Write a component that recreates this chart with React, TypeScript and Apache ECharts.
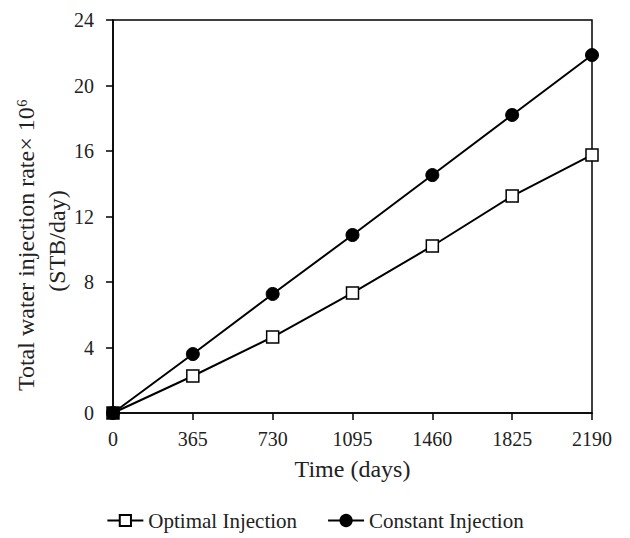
import React, { useEffect, useRef } from "react";
import * as echarts from "echarts";

const days = [0, 365, 730, 1095, 1460, 1825, 2190];
const optimal = [0, 2.26, 4.64, 7.33, 10.2, 13.25, 15.76];
const constant = [0, 3.6, 7.27, 10.87, 14.53, 18.2, 21.86];
const xTicks = [0, 365, 730, 1095, 1460, 1825, 2190];
const yTicks = [0, 4, 8, 12, 16, 20, 24];
const yTitle1 = "Total water injection rate× 10⁶";
const yTitle2 = "(STB/day)";

const FONT = "'Liberation Serif', 'Times New Roman', serif";

export default function App() {
  const ref = useRef<HTMLDivElement>(null);
  useEffect(() => {
    const chart = echarts.init(ref.current!, null, { renderer: "svg" });
    const axisCommon = {
      axisLine: { show: true, lineStyle: { color: "#000", width: 1.5 } },
      axisTick: { show: true, inside: false, length: 7, lineStyle: { color: "#000", width: 1.5 } },
      splitLine: { show: false },
      axisLabel: { color: "#222", fontFamily: FONT, fontSize: 20 },
      nameTextStyle: { color: "#222", fontFamily: FONT, fontSize: 24 },
    };
    const titleStyle = { fill: "#222", font: `24px ${FONT}`, align: "center", verticalAlign: "middle" };
    chart.setOption({
      animation: false,
      backgroundColor: "#fff",
      grid: {
        left: 105, right: 30, top: 12, bottom: 125, show: true,
        borderColor: "#000", borderWidth: 1.5, outerBoundsMode: "none",
      },
      legend: {
        top: 497,
        left: "center",
        itemWidth: 36,
        itemHeight: 14,
        itemGap: 30,
        textStyle: { color: "#222", fontFamily: FONT, fontSize: 21 },
        data: ["Optimal Injection", "Constant Injection"],
      },
      graphic: [
        { type: "text", x: 18, y: 237, rotation: Math.PI / 2, style: { text: yTitle1, ...titleStyle } },
        { type: "text", x: 49, y: 233, rotation: Math.PI / 2, style: { text: yTitle2, ...titleStyle } },
      ],
      xAxis: {
        type: "value",
        min: 0,
        max: 2190,
        interval: 365,
        name: "Time (days)",
        nameLocation: "middle",
        nameGap: 44,
        ...axisCommon,
        axisLabel: { ...axisCommon.axisLabel, margin: 16, formatter: (v: number) => (xTicks.includes(v) ? String(v) : "") },
      },
      yAxis: {
        type: "value",
        min: 0,
        max: 24,
        interval: 4,
        ...axisCommon,
        axisLabel: { ...axisCommon.axisLabel, margin: 19, formatter: (v: number) => (yTicks.includes(v) ? String(v) : "") },
      },
      series: [
        {
          name: "Optimal Injection",
          type: "line",
          data: days.map((d, i) =>
            i === 0
              ? { value: [d, optimal[i]], itemStyle: { color: "#000" } }
              : [d, optimal[i]]
          ),
          symbol: "rect",
          symbolSize: 12,
          lineStyle: { color: "#000", width: 2 },
          itemStyle: { color: "#fff", borderColor: "#000", borderWidth: 1.5 },
          z: 3,
        },
        {
          name: "Constant Injection",
          type: "line",
          data: days.map((d, i) => [d, constant[i]]),
          symbol: "circle",
          symbolSize: 13,
          lineStyle: { color: "#000", width: 2 },
          itemStyle: { color: "#000", borderColor: "#000", borderWidth: 1 },
          z: 2,
        },
      ],
    });
    return () => chart.dispose();
  }, []);
  return <div ref={ref} style={{ width: 614, height: 530 }} />;
}
